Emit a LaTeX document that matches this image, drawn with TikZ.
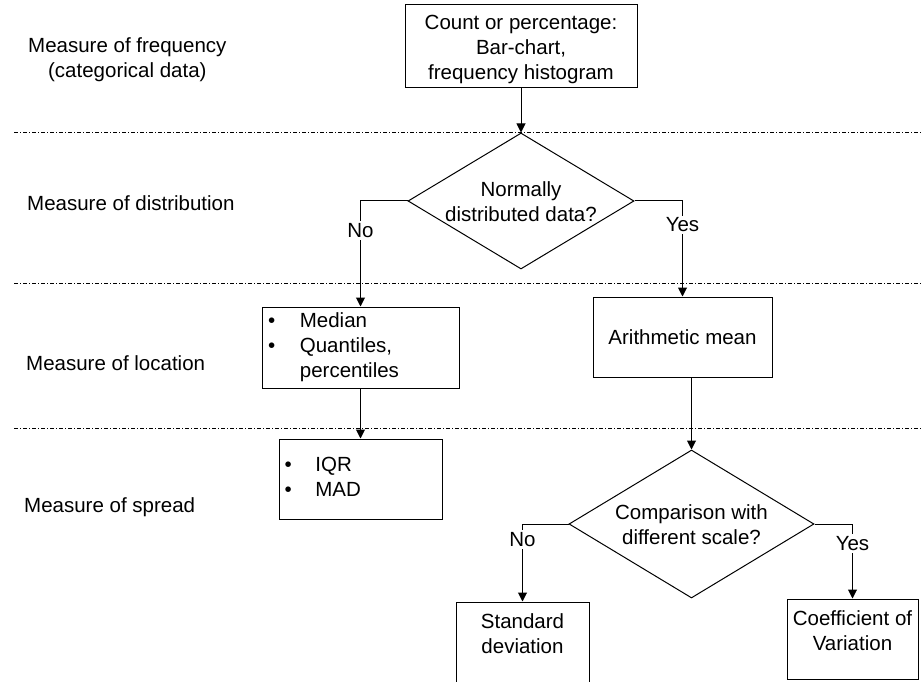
\documentclass[tikz,border=0pt]{standalone}
\usepackage{fontspec}
\setmainfont{Liberation Sans}
\usetikzlibrary{shapes.geometric,arrows.meta}
\tikzset{
  every node/.style={font=\fontsize{20.5}{25}\selectfont},
  box/.style={draw, line width=1pt, inner sep=0pt, align=center},
  dia/.style={draw, line width=1pt, diamond, inner sep=0pt},
  txt/.style={align=center, inner sep=0pt},
  lbl/.style={fill=white, inner sep=2pt},
  arr/.style={line width=1pt, -{Triangle[length=9pt,width=9pt]}},
  sep/.style={line width=0.7pt, dash pattern=on 4pt off 2pt on 1pt off 2pt},
  side/.style={anchor=west, inner sep=0pt, align=center}
}
\begin{document}
\begin{tikzpicture}[x=1pt,y=-1pt]
\useasboundingbox (0,0) rectangle (922,682);
\clip (0,0) rectangle (922,682);

% separators
\draw[sep] (14,132) -- (922,132);
\draw[sep] (14,283) -- (922,283);
\draw[sep] (14,428) -- (922,428);

% side labels
\node[side] (l1) at (28,60) {Measure of frequency\\(categorical data)};
\node[side] (l2) at (27,203) {Measure of distribution};
\node[side] (l3) at (26,363) {Measure of location};
\node[side] (l4) at (24,507) {Measure of spread};

% boxes
\node[box, minimum width=232pt, minimum height=83pt] (top) at (521,46.5) {};
\node[txt] (toptxt) at (521,49) {Count or percentage:\\Bar-chart,\\frequency histogram};

\node[dia, minimum width=226pt, minimum height=136pt] (d1) at (521,201) {};
\node[txt] (d1txt) at (521,202) {Normally\\distributed data?};

\node[box, minimum width=197pt, minimum height=81pt] (med) at (360.5,347.5) {};
\node[anchor=west, inner sep=0pt] (medtxt) at (268,347.5)
  {\begin{tabular}{@{}l@{\hspace{24.5pt}}l@{}}\textbullet & Median\\ \textbullet & Quantiles,\\ & percentiles\end{tabular}};

\node[box, minimum width=179pt, minimum height=80pt] (arith) at (682.5,337) {Arithmetic mean};

\node[box, minimum width=163pt, minimum height=80pt] (iqr) at (360.5,479) {};
\node[anchor=west, inner sep=0pt] (iqrtxt) at (284.5,479)
  {\begin{tabular}{@{}l@{\hspace{23.5pt}}l@{}}\textbullet & IQR\\ \textbullet & MAD\end{tabular}};

\node[dia, minimum width=245pt, minimum height=148pt] (d2) at (691.5,524) {};
\node[txt] (d2txt) at (691.5,525) {Comparison with\\different scale?};

\node[box, minimum width=133pt, minimum height=88pt] (sd) at (522.5,646) {};
\node[txt] (sdtxt) at (522.5,634) {Standard\\deviation};

\node[box, minimum width=131pt, minimum height=80pt] (cv) at (852.5,639) {};
\node[txt] (cvtxt) at (852.5,631) {Coefficient of\\Variation};

% connectors
\draw[arr] (top.south) -- (d1.north);
\draw[arr] (d1.west) -| node[lbl, pos=0.64] {No} (med.north);
\draw[arr] (d1.east) -| node[lbl, pos=0.625] {Yes} (arith.north);
\draw[arr] (med.south) -- (iqr.north);
\draw[arr] (arith.south -| d2.north) -- (d2.north);
\draw[arr] (d2.west) -| node[lbl, pos=0.6] {No} (sd.north);
\draw[arr] (d2.east) -| node[lbl, pos=0.63] {Yes} (cv.north);
\end{tikzpicture}
\end{document}
